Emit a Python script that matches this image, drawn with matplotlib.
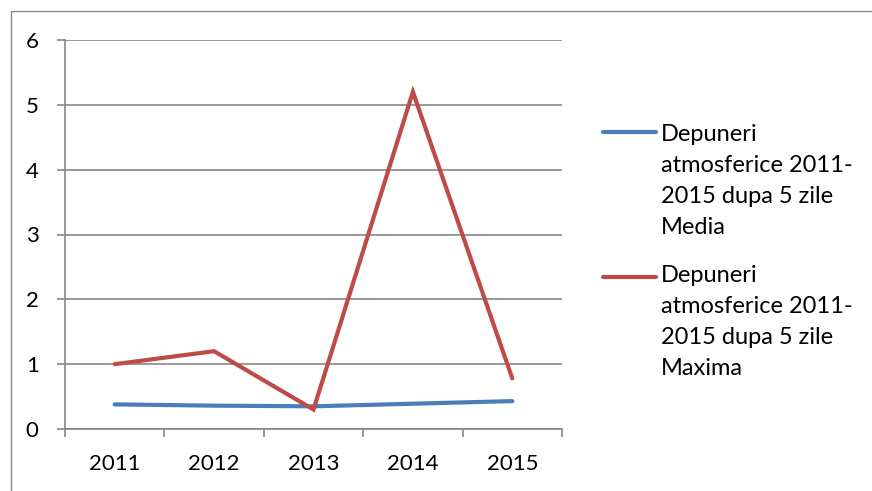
import matplotlib
matplotlib.use("Agg")
import matplotlib.pyplot as plt
from matplotlib.lines import Line2D
from matplotlib.patches import Rectangle


years = ["2011", "2012", "2013", "2014", "2015"]
media = [0.38, 0.36, 0.35, 0.39, 0.43]
maxima = [1.0, 1.2, 0.3, 5.2, 0.78]
labels = [
    "Depuneri\natmosferice 2011-\n2015 dupa 5 zile\nMedia",
    "Depuneri\natmosferice 2011-\n2015 dupa 5 zile\nMaxima",
]
colors = ["#4A7EBB", "#BE4B48"]
GRAY = "#878787"

plt.rcParams["font.family"] = ["Lato", "DejaVu Sans"]

W, H = 872, 491
fig = plt.figure(figsize=(W / 100, H / 100), dpi=100)
ax = fig.add_axes([65 / W, 1 - 429 / H, (562 - 65) / W, (429 - 40) / H])

x = list(range(len(years)))
for values, color in zip([media, maxima], colors):
    ax.plot(x, values, color=color, lw=3, solid_capstyle="round", solid_joinstyle="miter")

ax.set_xlim(-0.5, len(years) - 0.5)
ax.set_ylim(0, 6)
ax.set_yticks(range(7))
ax.yaxis.grid(True, color=GRAY, lw=1.2)
ax.set_axisbelow(True)

ax.set_xticks([i - 0.5 for i in range(len(years) + 1)])
ax.set_xticklabels([])
ax.set_xticks(x, minor=True)
ax.set_xticklabels(years, minor=True)
ax.tick_params(axis="x", which="major", length=6, width=1.2, color=GRAY)
ax.tick_params(axis="x", which="minor", length=0, pad=18, labelsize=16)
ax.tick_params(axis="y", length=6, width=1.2, color=GRAY, pad=13, labelsize=16)

for side in ["top", "right"]:
    ax.spines[side].set_visible(False)
for side in ["left", "bottom"]:
    ax.spines[side].set_color(GRAY)
    ax.spines[side].set_linewidth(1.2)

# legend drawn by hand: handle next to first text line
for i, (label, color) in enumerate(zip(labels, colors)):
    y_line = 1 - (132 + i * 145) / H
    fig.add_artist(Line2D([603 / W, 656 / W], [y_line, y_line], color=color, lw=3,
                          solid_capstyle="round", transform=fig.transFigure))
    fig.text(661 / W, 1 - (124 + i * 141) / H, label, fontsize=17, va="top",
             ha="left", linespacing=1.58)

fig.add_artist(Rectangle((11 / W, -0.1), 1.2, 1.1 - 11 / H, transform=fig.transFigure,
                         fill=False, ec=GRAY, lw=1))

fig.savefig("out.png", dpi=100)
